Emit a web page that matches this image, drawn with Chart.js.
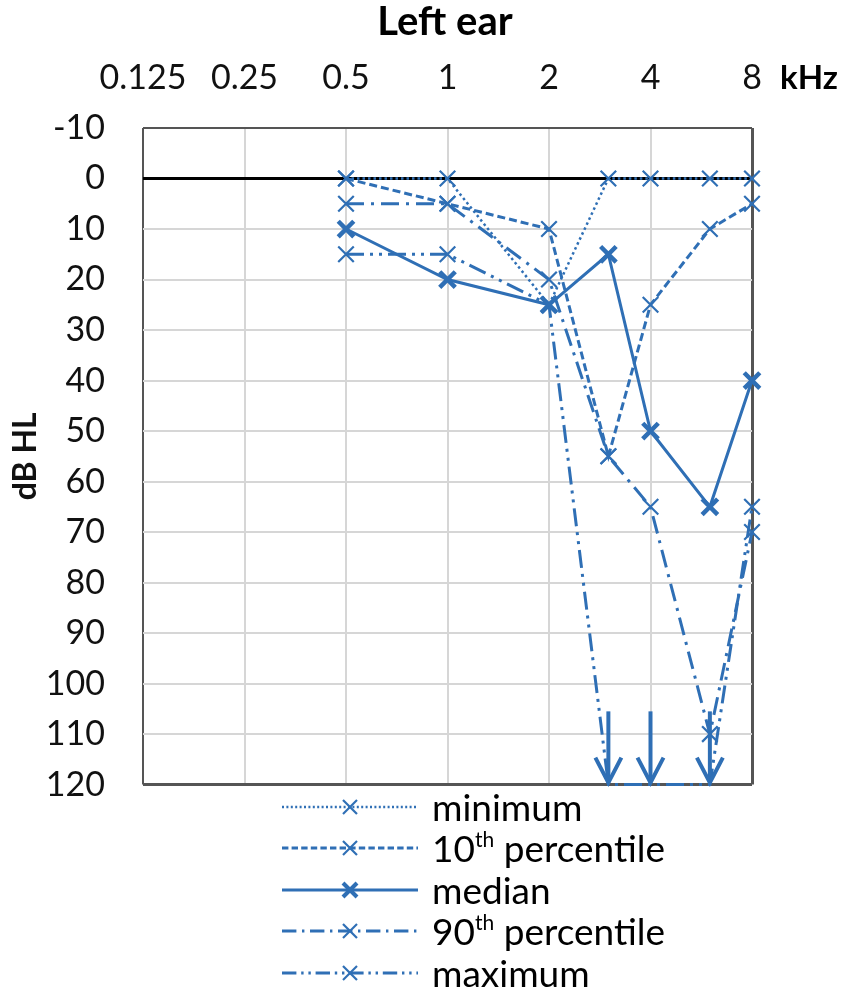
<!DOCTYPE html>
<html>
<head>
<meta charset="utf-8">
<script src="https://cdn.jsdelivr.net/npm/chart.js@4.4.1/dist/chart.umd.min.js"></script>
<style>
  body { margin: 0; background: #fff; font-family: Lato, sans-serif; }
  #wrap { position: relative; width: 846px; height: 995px; overflow: hidden; }
  #chartBox { position: absolute; left: 0; top: 0; width: 846px; height: 843px; }
  #title { position: absolute; left: 0; width: 890px; top: -3px; text-align: center; font-weight: bold; font-size: 40px; line-height: 46px; }
  #unit { position: absolute; left: 780px; top: 56px; font-weight: bold; font-size: 33px; line-height: 40px; }
  #legend { position: absolute; left: 280px; top: 786px; }
  .row { height: 41.5px; display: flex; align-items: center; }
  .row svg { width: 140px; height: 30px; margin-right: 12px; }
  .row span { font-size: 37px; line-height: 40px; }
  .row sup { font-size: 21px; vertical-align: 15px; line-height: 0; }
</style>
</head>
<body>
<div id="wrap">
  <div id="chartBox"><canvas id="audiogram" width="846" height="843"></canvas></div>
  <div id="title">Left ear</div>
  <div id="unit">kHz</div>
  <div id="legend"></div>
</div>
<script>
// Audiogram data (left ear), thresholds in dB HL
const frequencies = [0.5, 1, 2, 3, 4, 6, 8];          // kHz
const minimum     = [0, 0, 25, 0, 0, 0, 0];
const pct10       = [0, 5, 10, 55, 25, 10, 5];
const median      = [10, 20, 25, 15, 50, 65, 40];
const pct90       = [5, 5, 20, 55, 65, 110, 70];
const maximum     = [15, 15, 25, 120, 120, 120, 65];
const noResponse  = [3, 4, 6];                          // kHz where maximum had no response
const freqTicks   = [0.125, 0.25, 0.5, 1, 2, 4, 8];
const dbTicks     = [-10, 0, 10, 20, 30, 40, 50, 60, 70, 80, 90, 100, 110, 120];

const BLUE = '#2F6FB5';
const GRID = '#D6D6D6';
const EDGE = '#555555';

function toPoints(values) {
    return frequencies.map((f, i) => ({ x: Math.log2(f), y: values[i] }));
}

// hide markers for the "no response" points
function maxRadius(ctx) {
    const f = frequencies[ctx.dataIndex];
    return noResponse.includes(f) ? 0 : 11;
}

const seriesDefs = [
    { label: 'minimum', data: minimum, dash: [2.5, 3], width: 2.5, mark: 2.2 },
    { label: '10th percentile', data: pct10, dash: [8, 4], width: 3, mark: 2.2 },
    { label: 'median', data: median, dash: [], width: 3, mark: 4.5 },
    { label: '90th percentile', data: pct90, dash: [18, 7, 3, 7], width: 3, mark: 2.2 },
    { label: 'maximum', data: maximum, dash: [18, 6, 3, 6, 3, 6], width: 3, mark: 2.2 }
];

const datasets = seriesDefs.map(s => ({
    label: s.label,
    data: toPoints(s.data),
    borderColor: BLUE,
    backgroundColor: BLUE,
    borderWidth: s.width,
    borderDash: s.dash,
    pointStyle: 'crossRot',
    pointRadius: s.label === 'maximum' ? maxRadius : 11,
    pointBorderWidth: s.mark,
    pointBorderColor: BLUE,
    tension: 0,
    fill: false,
    clip: false
}));

// draws the down arrows for "no response" at the maximum level
const arrowPlugin = {
    id: 'noResponseArrows',
    afterDatasetsDraw(chart) {
        const { ctx, scales } = chart;
        ctx.save();
        ctx.strokeStyle = BLUE;
        ctx.lineWidth = 4;
        ctx.lineCap = 'butt';
        noResponse.forEach(f => {
            const x = scales.x.getPixelForValue(Math.log2(f));
            const yTop = scales.y.getPixelForValue(105.5);
            const yBot = scales.y.getPixelForValue(120) - 2;
            ctx.beginPath();
            ctx.moveTo(x, yTop);
            ctx.lineTo(x, yBot);
            ctx.stroke();
            ctx.beginPath();
            ctx.moveTo(x - 13, yBot - 25);
            ctx.lineTo(x, yBot);
            ctx.lineTo(x + 13, yBot - 25);
            ctx.stroke();
        });
        ctx.restore();
    }
};

new Chart(document.getElementById('audiogram'), {
    type: 'line',
    data: { datasets: datasets },
    plugins: [arrowPlugin],
    options: {
        responsive: false,
        animation: false,
        layout: { padding: { left: 0, right: 94, top: 0, bottom: 7 } },
        plugins: {
            legend: { display: false },
            tooltip: { enabled: false }
        },
        scales: {
            x: {
                type: 'linear',
                position: 'top',
                min: -3,
                max: 3,
                afterFit: s => { s.height = 128; },
                afterBuildTicks: s => { s.ticks = freqTicks.map(f => ({ value: Math.log2(f) })); },
                ticks: {
                    padding: 30,
                    color: '#111',
                    font: { family: 'Lato', size: 34 },
                    callback: v => String(freqTicks.find(f => Math.abs(Math.log2(f) - v) < 1e-6))
                },
                grid: {
                    drawTicks: false,
                    color: c => (c.tick && (c.tick.value === -3 || c.tick.value === 3)) ? EDGE : GRID,
                    lineWidth: c => (c.tick && c.tick.value === 3) ? 3 : 2
                },
                border: { display: false }
            },
            y: {
                type: 'linear',
                reverse: true,
                min: -10,
                max: 120,
                afterFit: s => { s.width = 143; },
                afterBuildTicks: s => { s.ticks = dbTicks.map(v => ({ value: v })); },
                ticks: {
                    padding: 38,
                    color: '#111',
                    font: { family: 'Lato', size: 34 }
                },
                title: {
                    display: true,
                    text: 'dB HL',
                    color: '#111',
                    font: { family: 'Lato', size: 32, weight: 'bold' },
                    padding: { top: 6, bottom: 0 }
                },
                grid: {
                    drawTicks: false,
                    color: c => {
                        if (!c.tick) return GRID;
                        if (c.tick.value === 0) return '#000';
                        if (c.tick.value === -10 || c.tick.value === 120) return EDGE;
                        return GRID;
                    },
                    lineWidth: c => (c.tick && (c.tick.value === 0 || c.tick.value === 120)) ? 3 : 2
                },
                border: { display: false }
            }
        }
    }
});

// legend with line-style samples
const legend = document.getElementById('legend');
seriesDefs.forEach(s => {
    const row = document.createElement('div');
    row.className = 'row';
    const dash = s.dash.length ? s.dash.map(d => d * 0.8).join(' ') : 'none';
    const sw = s.mark > 3 ? 4 : 2.2;
    row.innerHTML =
        `<svg viewBox="0 0 140 30">
           <line x1="2" y1="15" x2="138" y2="15" stroke="${BLUE}" stroke-width="${s.width}" stroke-dasharray="${dash}"/>
           <line x1="63" y1="8" x2="77" y2="22" stroke="${BLUE}" stroke-width="${sw}"/>
           <line x1="63" y1="22" x2="77" y2="8" stroke="${BLUE}" stroke-width="${sw}"/>
         </svg>
         <span>${s.label.replace('th ', '<sup>th</sup> ')}</span>`;
    legend.appendChild(row);
});
</script>
</body>
</html>
